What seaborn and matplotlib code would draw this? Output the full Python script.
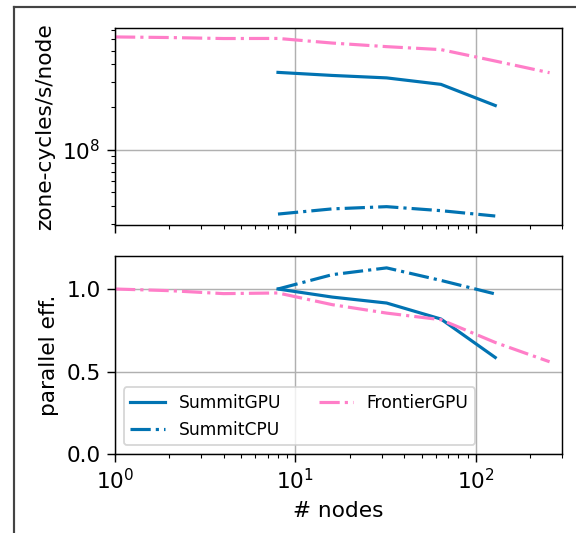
import matplotlib
matplotlib.use("Agg")
import matplotlib.pyplot as plt
import matplotlib.lines as mlines
import pandas as pd
import seaborn as sns

# node counts
nodes_summit = [8, 16, 32, 64, 128]
nodes_frontier = [1, 2, 4, 8, 16, 32, 64, 128, 256]

# zone-cycles/s/node
perf_summit_gpu = [3.51e8, 3.34e8, 3.21e8, 2.89e8, 2.05e8]
perf_summit_cpu = [3.52e7, 3.83e7, 3.97e7, 3.72e7, 3.41e7]
perf_frontier_gpu = [6.24e8, 6.18e8, 6.08e8, 6.09e8, 5.65e8, 5.33e8, 5.08e8, 4.22e8, 3.49e8]

# parallel efficiency
eff_summit_gpu = [1.0, 0.951, 0.915, 0.818, 0.585]
eff_summit_cpu = [1.0, 1.087, 1.128, 1.052, 0.970]
eff_frontier_gpu = [1.0, 0.990, 0.972, 0.976, 0.905, 0.854, 0.814, 0.676, 0.559]

labels = ["SummitGPU", "SummitCPU", "FrontierGPU"]


def make_frame(gpu, cpu, fr):
    rows = []
    for n, v in zip(nodes_summit, gpu):
        rows.append((n, v, "SummitGPU"))
    for n, v in zip(nodes_summit, cpu):
        rows.append((n, v, "SummitCPU"))
    for n, v in zip(nodes_frontier, fr):
        rows.append((n, v, "FrontierGPU"))
    return pd.DataFrame(rows, columns=["nodes", "value", "machine"])


perf_df = make_frame(perf_summit_gpu, perf_summit_cpu, perf_frontier_gpu)
eff_df = make_frame(eff_summit_gpu, eff_summit_cpu, eff_frontier_gpu)

plt.rcParams["font.size"] = 12
plt.rcParams["xtick.major.size"] = 4.5
plt.rcParams["ytick.major.size"] = 4.5

palette = {"SummitGPU": "#0173b2", "SummitCPU": "#0173b2", "FrontierGPU": "#ff7ec8"}
dashes = {"SummitGPU": "", "SummitCPU": (6.4, 1.6, 1, 1.6), "FrontierGPU": (6.4, 1.6, 1, 1.6)}

fig = plt.figure(figsize=(576 / 130, 533 / 130), dpi=130)
ax1 = fig.add_axes([0.1997, 0.5779, 0.776, 0.3696])
ax2 = fig.add_axes([0.1997, 0.1482, 0.776, 0.3715], sharex=ax1)

sns.lineplot(data=perf_df, x="nodes", y="value", hue="machine", style="machine",
             hue_order=labels, style_order=labels, palette=palette, dashes=dashes,
             linewidth=1.75, ax=ax1, legend=False)
sns.lineplot(data=eff_df, x="nodes", y="value", hue="machine", style="machine",
             hue_order=labels, style_order=labels, palette=palette, dashes=dashes,
             linewidth=1.75, ax=ax2)

ax1.set_xscale("log")
ax1.set_yscale("log")
ax1.set_xlim(1, 300)
ax1.set_ylabel("zone-cycles/s/node", fontsize=12)
ax1.set_xlabel("")
ax1.tick_params(labelbottom=False)
ax1.grid(True)

ax2.set_ylim(0, 1.2)
ax2.set_yticks([0.0, 0.5, 1.0])
ax2.set_ylabel("parallel eff.", fontsize=12)
ax2.set_xlabel("# nodes", fontsize=12)
ax2.grid(True)

handles, _ = ax2.get_legend_handles_labels()
ax2.legend(handles, labels, loc="lower left", ncol=2, fontsize=9.5,
           columnspacing=2.2)

for ax in (ax1, ax2):
    ax.tick_params(labelsize=12)

# page border around the figure
fig.add_artist(mlines.Line2D([14 / 576, 1], [1 - 7 / 533, 1 - 7 / 533],
                             transform=fig.transFigure, color="#444444", lw=1.2))
fig.add_artist(mlines.Line2D([14 / 576, 14 / 576], [0, 1 - 7 / 533],
                             transform=fig.transFigure, color="#444444", lw=1.2))

fig.savefig("out.png", dpi=130)
plt.close(fig)
